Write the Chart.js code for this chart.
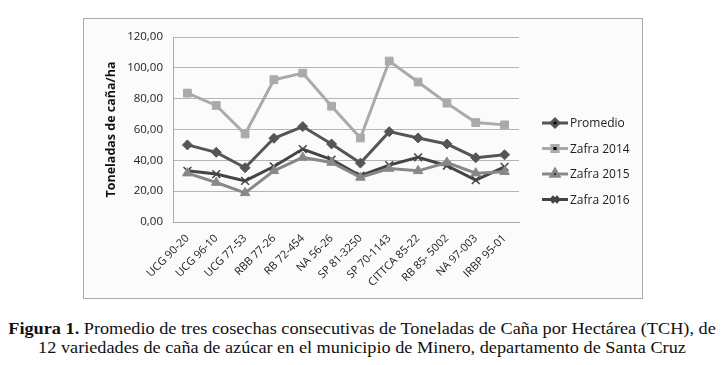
<!DOCTYPE html>
<html>
<head>
<meta charset="utf-8">
<script src="https://cdn.jsdelivr.net/npm/chart.js@4.4.0/dist/chart.umd.min.js"></script>
<style>
  body { margin: 0; background: #fff; width: 724px; height: 365px; position: relative; overflow: hidden; }
  #marco { position: absolute; left: 83px; top: 18px; width: 558px; height: 279px; border: 1px solid #aaa; background: #fbfbfb; }
  #caption { position: absolute; left: 0; top: 319px; width: 724px; text-align: center;
             font-family: "Liberation Serif", "DejaVu Serif", serif; font-size: 16px; line-height: 19px; color: #111;
             transform: scaleX(1.14); transform-origin: 362px 0; }
</style>
</head>
<body>
<div id="marco"><canvas id="grafico" width="558" height="279"></canvas></div>
<div id="caption"><b>Figura 1.</b> Promedio de tres cosechas consecutivas de Toneladas de Caña por Hectárea (TCH), de<br>12 variedades de caña de azúcar en el municipio de Minero, departamento de Santa Cruz</div>
<script>
"use strict";

const variedades = ["UCG 90-20", "UCG 96-10", "UCG 77-53", "RBB 77-26", "RB 72-454", "NA 56-26",
                    "SP 81-3250", "SP 70-1143", "CITTCA 85-22", "RB 85- 5002", "NA 97-003", "IRBP 95-01"];
const promedio  = [50.0, 45.2, 35.2, 54.3, 61.9, 50.6, 38.2, 58.6, 54.5, 50.6, 41.7, 43.6];
const zafra2014 = [83.6, 75.6, 57.1, 92.3, 96.6, 75.1, 54.5, 104.4, 90.8, 77.1, 64.5, 63.0];
const zafra2015 = [31.7, 25.6, 18.9, 33.2, 41.9, 38.6, 28.9, 34.7, 33.2, 38.6, 31.7, 32.6];
const zafra2016 = [33.2, 31.1, 26.7, 36.0, 47.3, 40.4, 30.0, 36.9, 41.9, 36.5, 27.2, 35.8];

const fuente = "'Open Sans', 'Liberation Sans', sans-serif";

function serie(label, data, color, estilo, radio) {
  return {
    label, data,
    borderColor: color, backgroundColor: color,
    borderWidth: 3, tension: 0,
    pointStyle: estilo, pointRadius: radio, pointHoverRadius: radio,
    pointBorderWidth: estilo === "crossRot" ? 1.5 : 1,
    pointBorderColor: color, pointBackgroundColor: color
  };
}

// leyenda dibujada a mano: linea con marcador en el centro
const leyenda = {
  id: "leyenda",
  afterDraw(chart) {
    const ctx = chart.ctx;
    const x0 = 458, yBase = 104, paso = 25.5;
    chart.data.datasets.forEach((ds, i) => {
      const y = yBase + i * paso;
      ctx.save();
      ctx.strokeStyle = ds.borderColor;
      ctx.lineWidth = 3;
      ctx.beginPath();
      ctx.moveTo(x0, y);
      ctx.lineTo(x0 + 26, y);
      ctx.stroke();
      Chart.helpers.drawPoint(ctx, {
        pointStyle: ds.pointStyle, radius: ds.pointRadius * 0.8, borderWidth: ds.pointBorderWidth
      }, x0 + 13, y);
      ctx.fillStyle = "#222";
      ctx.font = "12px " + fuente;
      ctx.textBaseline = "middle";
      ctx.fillText(ds.label, x0 + 28, y + 1);
      ctx.restore();
    });
  }
};

new Chart(document.getElementById("grafico"), {
  type: "line",
  data: {
    labels: variedades,
    datasets: [
      serie("Promedio",   promedio,  "#555555", "rectRot", 5),
      serie("Zafra 2014", zafra2014, "#aaaaaa", "rect", 5.5),
      serie("Zafra 2015", zafra2015, "#888888", "triangle", 5.5),
      serie("Zafra 2016", zafra2016, "#444444", "crossRot", 5.5)
    ]
  },
  options: {
    responsive: false,
    animation: false,
    layout: { padding: { left: 16, top: 18, right: 123, bottom: 0 } },
    plugins: { legend: { display: false }, tooltip: { enabled: false } },
    scales: {
      x: {
        offset: true,
        grid: { display: false },
        border: { color: "#aaa" },
        ticks: { color: "#222", font: { family: fuente, size: 11 }, minRotation: 45, maxRotation: 45, padding: 2 },
        afterFit(s) { s.height = 76; }
      },
      y: {
        min: 0, max: 120,
        grid: { color: "#b5b5b5", drawTicks: false },
        border: { color: "#aaa" },
        ticks: {
          stepSize: 20, padding: 10, color: "#222", font: { family: fuente, size: 11.5 },
          callback: v => v.toFixed(2).replace(".", ",")
        },
        title: { display: true, text: "Toneladas de caña/ha", color: "#111", font: { family: fuente, size: 12.5, weight: "bold" } },
        afterFit(s) { s.width = 73; }
      }
    }
  },
  plugins: [leyenda]
});
</script>
</body>
</html>
